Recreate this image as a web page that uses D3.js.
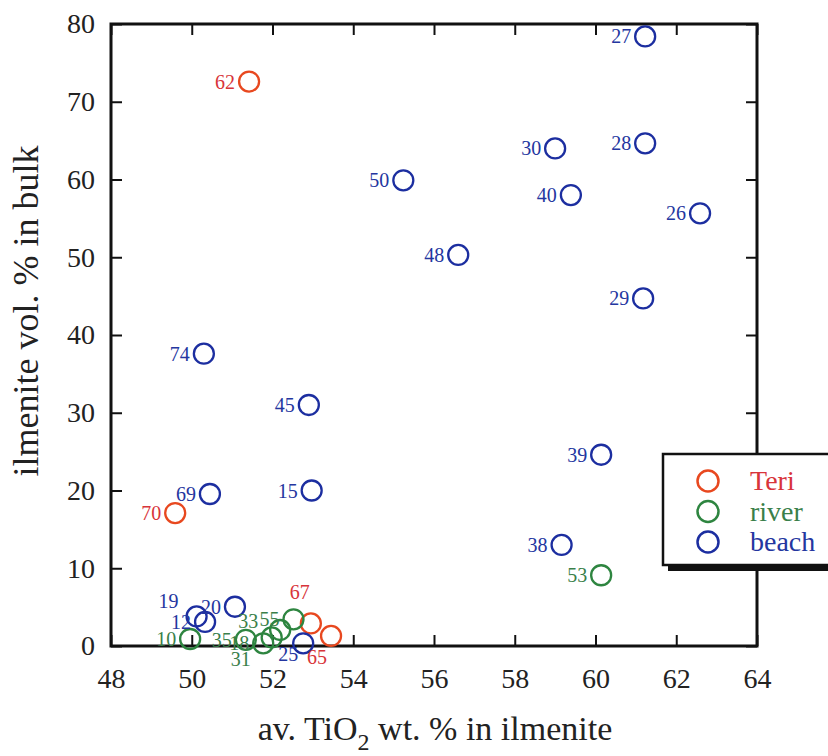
<!DOCTYPE html>
<html>
<head>
<meta charset="utf-8">
<script src="https://cdn.jsdelivr.net/npm/d3@7"></script>
<style>
  body { margin: 0; background: #fff; }
  svg { font-family: "Liberation Serif", "Times New Roman", serif; }
</style>
</head>
<body>
<script>
// sample points: id, av. TiO2 wt.% in ilmenite, ilmenite vol.% in bulk
const teri = [
  { id: "62", x: 51.42, y: 72.6 },
  { id: "70", x: 49.59, y: 17.1 },
  { id: "67", x: 52.95, y: 2.9 },
  { id: "65", x: 53.45, y: 1.3 }
]
const river = [
  { id: "53", x: 60.14, y: 9.1 },
  { id: "10", x: 49.96, y: 0.9 },
  { id: "35", x: 51.34, y: 0.8 },
  { id: "18", x: 51.77, y: 0.35 },
  { id: "31", x: 51.98, y: 1.1 },
  { id: "33", x: 52.19, y: 2.06 },
  { id: "55", x: 52.52, y: 3.43 }
]
const beach = [
  { id: "27", x: 61.23, y: 78.4 },
  { id: "30", x: 59.0, y: 64.0 },
  { id: "28", x: 61.23, y: 64.65 },
  { id: "50", x: 55.24, y: 59.9 },
  { id: "40", x: 59.39, y: 58.0 },
  { id: "26", x: 62.59, y: 55.65 },
  { id: "48", x: 56.6, y: 50.3 },
  { id: "29", x: 61.18, y: 44.7 },
  { id: "74", x: 50.3, y: 37.6 },
  { id: "45", x: 52.9, y: 31.0 },
  { id: "39", x: 60.14, y: 24.6 },
  { id: "69", x: 50.45, y: 19.55 },
  { id: "15", x: 52.97, y: 20.0 },
  { id: "38", x: 59.16, y: 13.0 },
  { id: "20", x: 51.07, y: 5.05 },
  { id: "19", x: 50.12, y: 3.8 },
  { id: "12", x: 50.33, y: 3.1 },
  { id: "25", x: 52.76, y: 0.35 }
]
const xTicks = [48, 50, 52, 54, 56, 58, 60, 62, 64]
const yTicks = [0, 10, 20, 30, 40, 50, 60, 70, 80]
const groups = ["Teri", "river", "beach"]

const circleColor = { Teri: "#e8481f", river: "#2e8540", beach: "#1c2ea0" }
const textColor = { Teri: "#d8343a", river: "#3a7f4a", beach: "#2436a0" }
// labels that do not sit left of their circle (offset from centre, px)
const labelShift = { "67": [-11, -31], "65": [-14, 21], "25": [-15, 11], "31": [-31, 22], "19": [-28, -15], "33": [-32, -9] }

const W = 828, H = 756
const L = 111, R = 757, T = 24, B = 646
const r = 10

const svg = d3.select("body").append("svg").attr("width", W).attr("height", H)

const x = d3.scaleLinear().domain([48, 64]).range([L, R])
const y = d3.scaleLinear().domain([0, 80]).range([B, T])

const tickStyle = g => {
  g.select(".domain").remove()
  g.selectAll(".tick line").attr("stroke", "#111").attr("stroke-width", 2)
  g.selectAll(".tick text").attr("fill", "#222").style("font-size", "28px").style("font-family", "Liberation Serif, serif")
}

svg.append("g").attr("transform", `translate(0,${B})`)
  .call(d3.axisBottom(x).tickValues(xTicks).tickSize(-11).tickPadding(22).tickFormat(d3.format("d")))
  .call(tickStyle)
svg.append("g").attr("transform", `translate(0,${T})`)
  .call(d3.axisTop(x).tickValues(xTicks).tickSize(-11).tickFormat(""))
  .call(tickStyle)
svg.append("g").attr("transform", `translate(${L},0)`)
  .call(d3.axisLeft(y).tickValues(yTicks).tickSize(-11).tickPadding(16).tickFormat(d3.format("d")))
  .call(tickStyle)
svg.append("g").attr("transform", `translate(${R},0)`)
  .call(d3.axisRight(y).tickValues(yTicks).tickSize(-11).tickFormat(""))
  .call(tickStyle)

svg.append("rect").attr("x", L).attr("y", T).attr("width", R - L).attr("height", B - T)
  .attr("fill", "none").attr("stroke", "#111").attr("stroke-width", 3)

// axis titles
const xt = svg.append("text").attr("x", 435).attr("y", 740).attr("text-anchor", "middle")
  .attr("fill", "#222").style("font-size", "34px")
xt.append("tspan").text("av. TiO")
xt.append("tspan").attr("dy", 10).style("font-size", "24px").text("2")
xt.append("tspan").attr("dy", -10).text(" wt. % in ilmenite")

svg.append("text").attr("transform", "translate(38,311) rotate(-90)").attr("text-anchor", "middle")
  .attr("fill", "#222").style("font-size", "36px").text("ilmenite vol. % in bulk")

// points
const all = [["Teri", teri], ["river", river], ["beach", beach]]
all.forEach(([g, data]) => {
  svg.append("g").selectAll("circle").data(data).enter().append("circle")
    .attr("cx", d => x(d.x)).attr("cy", d => y(d.y)).attr("r", r)
    .attr("fill", "none").attr("stroke", circleColor[g]).attr("stroke-width", 2.3)
})
all.forEach(([g, data]) => {
  svg.append("g").selectAll("text").data(data).enter().append("text")
    .attr("x", d => x(d.x) + (labelShift[d.id] ? labelShift[d.id][0] : -14))
    .attr("y", d => y(d.y) + (labelShift[d.id] ? labelShift[d.id][1] : 0))
    .attr("dy", "0.35em")
    .attr("text-anchor", d => labelShift[d.id] ? "middle" : "end")
    .attr("fill", textColor[g]).style("font-size", "20px")
    .text(d => d.id)
})

// legend
const lg = svg.append("g")
lg.append("rect").attr("x", 668).attr("y", 459).attr("width", 200).attr("height", 112).attr("fill", "#111")
lg.append("rect").attr("x", 663).attr("y", 454).attr("width", 200).attr("height", 111)
  .attr("fill", "#fff").attr("stroke", "#111").attr("stroke-width", 2.5)
groups.forEach((g, i) => {
  const cy = 481 + i * 30.5
  lg.append("circle").attr("cx", 708).attr("cy", cy).attr("r", 10.5)
    .attr("fill", "none").attr("stroke", circleColor[g]).attr("stroke-width", 2.5)
  lg.append("text").attr("x", 750).attr("y", cy).attr("dy", "0.33em")
    .attr("fill", textColor[g]).style("font-size", "28px").text(g)
})
</script>
</body>
</html>
